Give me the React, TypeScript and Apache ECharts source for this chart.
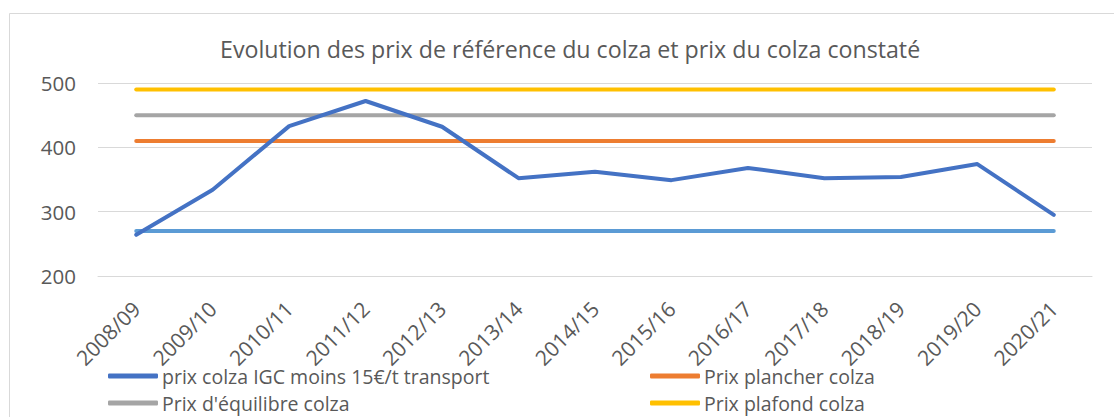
import React, { useEffect, useRef } from "react";
import * as echarts from "echarts";

const categories = ["2008/09","2009/10","2010/11","2011/12","2012/13","2013/14","2014/15","2015/16","2016/17","2017/18","2018/19","2019/20","2020/21"];
const prixIGC = [264, 334, 433, 472, 432, 352, 362, 349, 368, 352, 354, 374, 295];
const prixPlancher = [410, 410, 410, 410, 410, 410, 410, 410, 410, 410, 410, 410, 410];
const prixEquilibre = [450, 450, 450, 450, 450, 450, 450, 450, 450, 450, 450, 450, 450];
const prixPlafond = [490, 490, 490, 490, 490, 490, 490, 490, 490, 490, 490, 490, 490];
const prixBas = [270, 270, 270, 270, 270, 270, 270, 270, 270, 270, 270, 270, 270];

const FONT = "'Open Sans', 'Noto Sans', sans-serif";
const TXT = "#595959";

export default function App() {
  const ref = useRef<HTMLDivElement>(null);
  useEffect(() => {
    const chart = echarts.init(ref.current!, null, { renderer: "svg" });
    const mk = (name: string, data: number[], color: string, z: number) => ({
      name, type: "line", data, showSymbol: false, symbol: "none", z,
      lineStyle: { color, width: 4, cap: "round", join: "round" },
      itemStyle: { color },
    });
    const leg = (name: string, left: number, top: number) => ({
      data: [name], left, top, orient: "horizontal",
      itemWidth: 50, itemHeight: 5, icon: "roundRect", itemGap: 0, padding: 0,
      textStyle: { fontFamily: FONT, fontSize: 19.5, color: TXT, padding: [0, 0, 0, -1] },
    });
    chart.setOption({
      animation: false,
      textStyle: { fontFamily: FONT },
      title: {
        text: "Evolution des prix de référence du colza et prix du colza constaté",
        left: 215, top: 32,
        textStyle: { fontFamily: FONT, fontSize: 23.2, fontWeight: "normal", color: TXT },
      },
      graphic: [
        { type: "rect", shape: { x: 9.5, y: 13.5, width: 1120, height: 420 }, style: { fill: "none", stroke: "#D9D9D9", lineWidth: 1 }, silent: true },
      ],
      grid: { left: 98, right: 22, top: 83, bottom: 141 },
      legend: [
        leg("prix colza IGC moins 15€/t transport", 108, 366),
        leg("Prix plancher colza", 650, 366),
        leg("Prix d'équilibre colza", 108, 393),
        leg("Prix plafond colza", 650, 393),
      ],
      xAxis: {
        type: "category", data: categories, boundaryGap: true,
        axisLine: { lineStyle: { color: "#D9D9D9" } },
        axisTick: { show: false },
        axisLabel: { rotate: 45, fontSize: 21, color: TXT, fontFamily: FONT, margin: 29, interval: 0 },
      },
      yAxis: {
        type: "value", min: 200, max: 500, interval: 100,
        axisLine: { show: false }, axisTick: { show: false },
        axisLabel: { fontSize: 20.5, color: TXT, fontFamily: FONT, margin: 22 },
        splitLine: { lineStyle: { color: "#D9D9D9", width: 1 } },
      },
      series: [
        mk("Prix bas colza", prixBas, "#5B9BD5", 2),
        mk("Prix plancher colza", prixPlancher, "#ED7D31", 3),
        mk("Prix d'équilibre colza", prixEquilibre, "#A5A5A5", 4),
        mk("Prix plafond colza", prixPlafond, "#FFC000", 5),
        mk("prix colza IGC moins 15€/t transport", prixIGC, "#4472C4", 6),
      ],
    });
    return () => chart.dispose();
  }, []);
  return <div ref={ref} style={{ position: "fixed", left: 0, top: 0, width: 1114, height: 417, background: "#fff" }} />;
}
